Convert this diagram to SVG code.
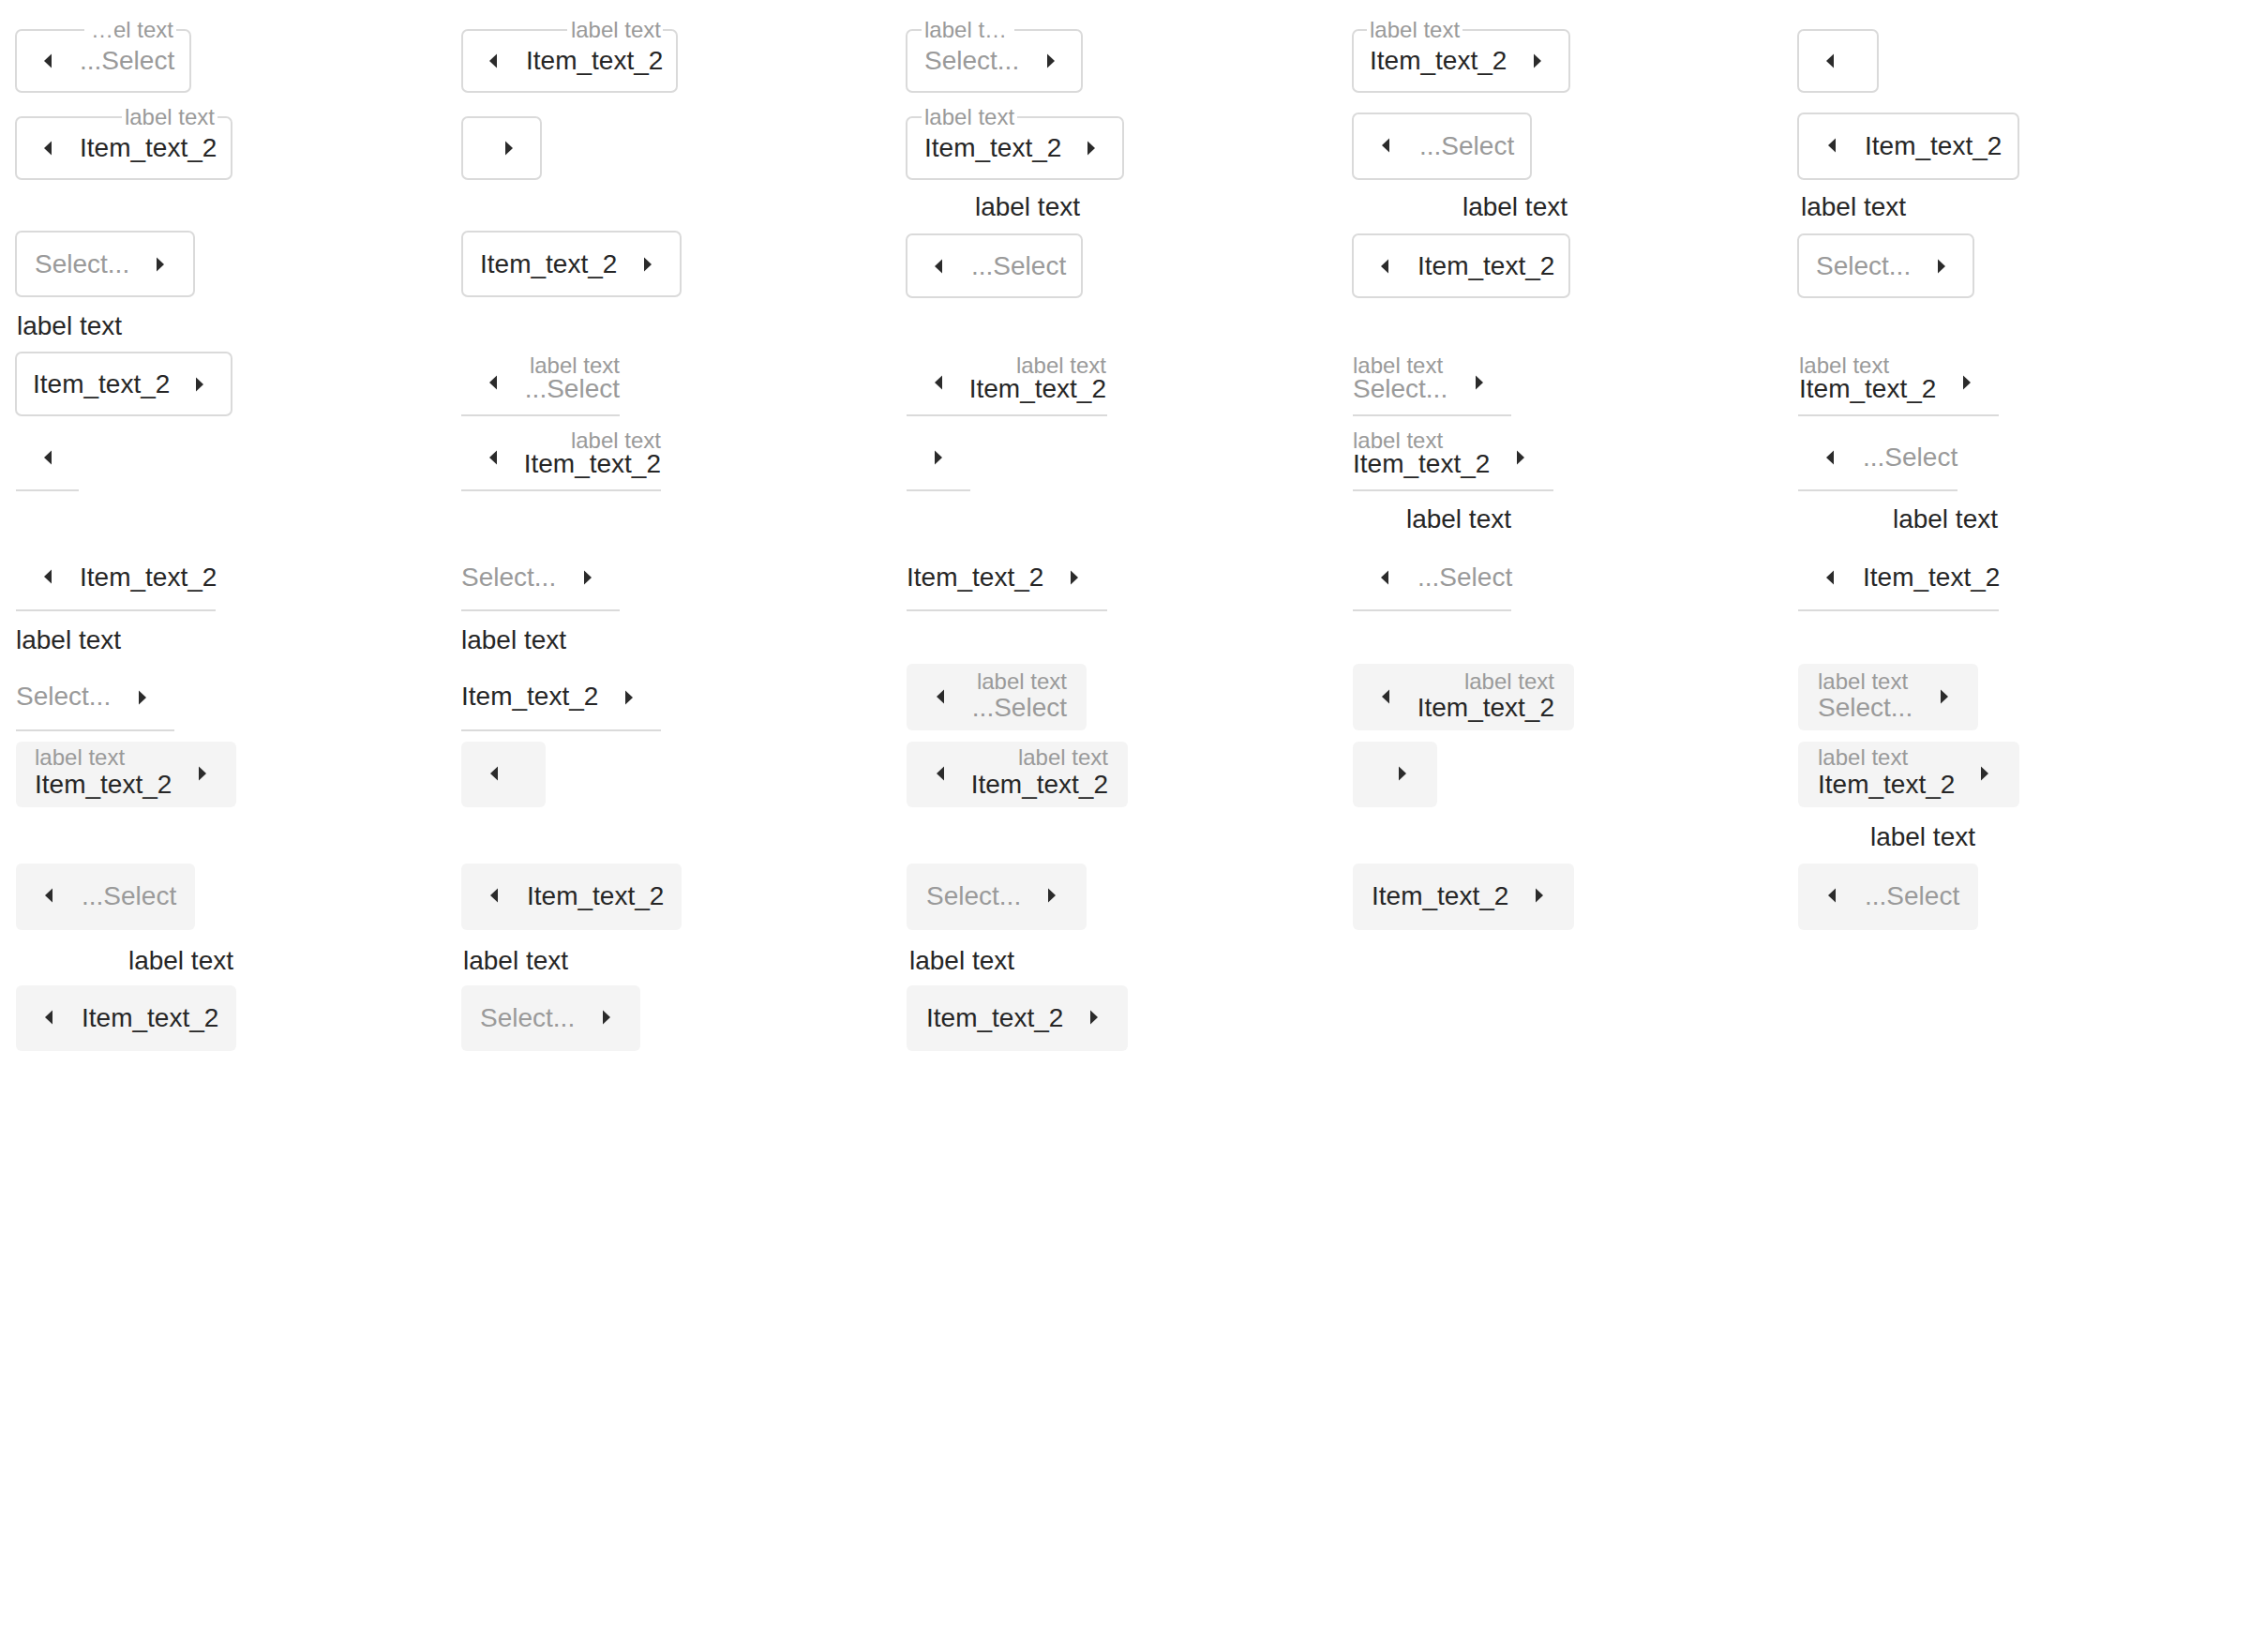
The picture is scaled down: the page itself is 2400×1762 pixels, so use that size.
<svg xmlns="http://www.w3.org/2000/svg" xmlns:xlink="http://www.w3.org/1999/xlink" width="2400" height="1762" viewBox="0 0 2400 1762">
<style>
text{font-family:"Liberation Sans",Arial,Helvetica,sans-serif}
.t{font-size:28px;fill:#262626}
.p{font-size:28px;fill:#9a9a9a}
.s{font-size:24px;fill:#9a9a9a}
.lb{font-size:28px;fill:#262626}
.e{text-anchor:end}
.bx{fill:#fff;stroke:#dadada;stroke-width:2}
.nb{fill:none;stroke:#dadada;stroke-width:2}
.fl{fill:#f4f4f4}
.ul{stroke:#dadada;stroke-width:2;fill:none}
.ar{fill:#2b2b2b}
</style>
<defs>
<path id="al" class="ar" d="M0,0 L8,-7.5 L8,7.5 Z"/>
<path id="ar" class="ar" d="M0,-7.5 L0,7.5 L8,0 Z"/>
</defs>
<rect width="2400" height="1762" fill="#fff"/>

<!-- Column 1 -->
<g id="c1n1"><path class="nb" d="M188,32 H197 A6,6 0 0 1 203,38 V92 A6,6 0 0 1 197,98 H23 A6,6 0 0 1 17,92 V38 A6,6 0 0 1 23,32 H90"/><text class="s e" x="185" y="40">…el text</text><use href="#al" x="47" y="65"/><text class="p" x="85" y="74">...Select</text></g>
<g id="c1n2"><path class="nb" d="M232,125 H241 A6,6 0 0 1 247,131 V185 A6,6 0 0 1 241,191 H23 A6,6 0 0 1 17,185 V131 A6,6 0 0 1 23,125 H130"/><text class="s e" x="229" y="133">label text</text><use href="#al" x="47" y="158"/><text class="t" x="85" y="167">Item_text_2</text></g>
<g id="c1n3"><rect class="bx" x="17" y="247" width="190" height="69" rx="6"/><text class="p" x="37" y="291">Select...</text><use href="#ar" x="167" y="282"/></g>
<g id="c1n4"><text class="lb" x="18" y="357">label text</text><rect class="bx" x="17" y="376" width="230" height="67" rx="6"/><text class="t" x="35" y="419">Item_text_2</text><use href="#ar" x="209" y="410"/></g>
<g id="c1n5"><use href="#al" x="47" y="488"/><line class="ul" x1="17" y1="523" x2="84" y2="523"/></g>
<g id="c1n6"><use href="#al" x="47" y="615"/><text class="t" x="85" y="625">Item_text_2</text><line class="ul" x1="17" y1="651" x2="230" y2="651"/></g>
<g id="c1n7"><text class="lb" x="17" y="692">label text</text><text class="p" x="17" y="752">Select...</text><use href="#ar" x="148" y="744"/><line class="ul" x1="17" y1="779" x2="186" y2="779"/></g>
<g id="c1n8"><rect class="fl" x="17" y="791" width="235" height="70" rx="6"/><text class="s" x="37" y="816">label text</text><text class="t" x="37" y="846">Item_text_2</text><use href="#ar" x="212" y="825"/></g>
<g id="c1n9"><rect class="fl" x="17" y="921" width="191" height="71" rx="6"/><use href="#al" x="48" y="955"/><text class="p" x="87" y="965">...Select</text></g>
<g id="c1n10"><text class="lb e" x="249" y="1034">label text</text><rect class="fl" x="17" y="1051" width="235" height="70" rx="6"/><use href="#al" x="48" y="1085"/><text class="t" x="87" y="1095">Item_text_2</text></g>

<!-- Column 2 -->
<g id="c2n1"><path class="nb" d="M707,32 H716 A6,6 0 0 1 722,38 V92 A6,6 0 0 1 716,98 H499 A6,6 0 0 1 493,92 V38 A6,6 0 0 1 499,32 H605"/><text class="s e" x="705" y="40">label text</text><use href="#al" x="522" y="65"/><text class="t" x="561" y="74">Item_text_2</text></g>
<g id="c2n2"><rect class="bx" x="493" y="125" width="84" height="66" rx="6"/><use href="#ar" x="539" y="158"/></g>
<g id="c2n3"><rect class="bx" x="493" y="247" width="233" height="69" rx="6"/><text class="t" x="512" y="291">Item_text_2</text><use href="#ar" x="687" y="282"/></g>
<g id="c2n4"><use href="#al" x="522" y="408"/><text class="s e" x="661" y="398">label text</text><text class="p e" x="661" y="424">...Select</text><line class="ul" x1="492" y1="443" x2="661" y2="443"/></g>
<g id="c2n5"><use href="#al" x="522" y="488"/><text class="s e" x="705" y="478">label text</text><text class="t e" x="705" y="504">Item_text_2</text><line class="ul" x1="492" y1="523" x2="705" y2="523"/></g>
<g id="c2n6"><text class="p" x="492" y="625">Select...</text><use href="#ar" x="623" y="616"/><line class="ul" x1="492" y1="651" x2="661" y2="651"/></g>
<g id="c2n7"><text class="lb" x="492" y="692">label text</text><text class="t" x="492" y="752">Item_text_2</text><use href="#ar" x="667" y="744"/><line class="ul" x1="492" y1="779" x2="705" y2="779"/></g>
<g id="c2n8"><rect class="fl" x="492" y="791" width="90" height="70" rx="6"/><use href="#al" x="523" y="825"/></g>
<g id="c2n9"><rect class="fl" x="492" y="921" width="235" height="71" rx="6"/><use href="#al" x="523" y="955"/><text class="t" x="562" y="965">Item_text_2</text></g>
<g id="c2n10"><text class="lb" x="494" y="1034">label text</text><rect class="fl" x="492" y="1051" width="191" height="70" rx="6"/><text class="p" x="512" y="1095">Select...</text><use href="#ar" x="643" y="1085"/></g>

<!-- Column 3 -->
<g id="c3n1"><path class="nb" d="M1082,32 H1148 A6,6 0 0 1 1154,38 V92 A6,6 0 0 1 1148,98 H973 A6,6 0 0 1 967,92 V38 A6,6 0 0 1 973,32 H983"/><text class="s" x="986" y="40">label t…</text><text class="p" x="986" y="74">Select...</text><use href="#ar" x="1117" y="65"/></g>
<g id="c3n2"><path class="nb" d="M1085,125 H1192 A6,6 0 0 1 1198,131 V185 A6,6 0 0 1 1192,191 H973 A6,6 0 0 1 967,185 V131 A6,6 0 0 1 973,125 H983"/><text class="s" x="986" y="133">label text</text><text class="t" x="986" y="167">Item_text_2</text><use href="#ar" x="1160" y="158"/></g>
<g id="c3n3"><text class="lb e" x="1152" y="230">label text</text><rect class="bx" x="967" y="250" width="187" height="67" rx="6"/><use href="#al" x="997" y="284"/><text class="p" x="1036" y="293">...Select</text></g>
<g id="c3n4"><use href="#al" x="997" y="408"/><text class="s e" x="1180" y="398">label text</text><text class="t e" x="1180" y="424">Item_text_2</text><line class="ul" x1="967" y1="443" x2="1181" y2="443"/></g>
<g id="c3n5"><use href="#ar" x="997" y="488"/><line class="ul" x1="967" y1="523" x2="1035" y2="523"/></g>
<g id="c3n6"><text class="t" x="967" y="625">Item_text_2</text><use href="#ar" x="1142" y="616"/><line class="ul" x1="967" y1="651" x2="1181" y2="651"/></g>
<g id="c3n7"><rect class="fl" x="967" y="708" width="192" height="71" rx="6"/><use href="#al" x="999" y="743"/><text class="s e" x="1138" y="735">label text</text><text class="p e" x="1138" y="764">...Select</text></g>
<g id="c3n8"><rect class="fl" x="967" y="791" width="236" height="70" rx="6"/><use href="#al" x="999" y="825"/><text class="s e" x="1182" y="816">label text</text><text class="t e" x="1182" y="846">Item_text_2</text></g>
<g id="c3n9"><rect class="fl" x="967" y="921" width="192" height="71" rx="6"/><text class="p" x="988" y="965">Select...</text><use href="#ar" x="1118" y="955"/></g>
<g id="c3n10"><text class="lb" x="970" y="1034">label text</text><rect class="fl" x="967" y="1051" width="236" height="70" rx="6"/><text class="t" x="988" y="1095">Item_text_2</text><use href="#ar" x="1163" y="1085"/></g>

<!-- Column 4 -->
<g id="c4n1"><path class="nb" d="M1560,32 H1668 A6,6 0 0 1 1674,38 V92 A6,6 0 0 1 1668,98 H1449 A6,6 0 0 1 1443,92 V38 A6,6 0 0 1 1449,32 H1458"/><text class="s" x="1461" y="40">label text</text><text class="t" x="1461" y="74">Item_text_2</text><use href="#ar" x="1636" y="65"/></g>
<g id="c4n2"><rect class="bx" x="1443" y="121" width="190" height="70" rx="6"/><use href="#al" x="1474" y="155"/><text class="p" x="1514" y="165">...Select</text></g>
<g id="c4n3"><text class="lb e" x="1672" y="230">label text</text><rect class="bx" x="1443" y="250" width="231" height="67" rx="6"/><use href="#al" x="1473" y="284"/><text class="t" x="1512" y="293">Item_text_2</text></g>
<g id="c4n4"><text class="s" x="1443" y="398">label text</text><text class="p" x="1443" y="424">Select...</text><use href="#ar" x="1574" y="408"/><line class="ul" x1="1443" y1="443" x2="1612" y2="443"/></g>
<g id="c4n5"><text class="s" x="1443" y="478">label text</text><text class="t" x="1443" y="504">Item_text_2</text><use href="#ar" x="1618" y="488"/><line class="ul" x1="1443" y1="523" x2="1657" y2="523"/></g>
<g id="c4n6"><text class="lb e" x="1612" y="563">label text</text><use href="#al" x="1473" y="616"/><text class="p" x="1512" y="625">...Select</text><line class="ul" x1="1443" y1="651" x2="1612" y2="651"/></g>
<g id="c4n7"><rect class="fl" x="1443" y="708" width="236" height="71" rx="6"/><use href="#al" x="1474" y="743"/><text class="s e" x="1658" y="735">label text</text><text class="t e" x="1658" y="764">Item_text_2</text></g>
<g id="c4n8"><rect class="fl" x="1443" y="791" width="90" height="70" rx="6"/><use href="#ar" x="1492" y="825"/></g>
<g id="c4n9"><rect class="fl" x="1443" y="921" width="236" height="71" rx="6"/><text class="t" x="1463" y="965">Item_text_2</text><use href="#ar" x="1638" y="955"/></g>

<!-- Column 5 -->
<g id="c5n1"><rect class="bx" x="1918" y="32" width="85" height="66" rx="6"/><use href="#al" x="1948" y="65"/></g>
<g id="c5n2"><rect class="bx" x="1918" y="121" width="235" height="70" rx="6"/><use href="#al" x="1950" y="155"/><text class="t" x="1989" y="165">Item_text_2</text></g>
<g id="c5n3"><text class="lb" x="1921" y="230">label text</text><rect class="bx" x="1918" y="250" width="187" height="67" rx="6"/><text class="p" x="1937" y="293">Select...</text><use href="#ar" x="2067" y="284"/></g>
<g id="c5n4"><text class="s" x="1919" y="398">label text</text><text class="t" x="1919" y="424">Item_text_2</text><use href="#ar" x="2094" y="408"/><line class="ul" x1="1918" y1="443" x2="2132" y2="443"/></g>
<g id="c5n5"><use href="#al" x="1948" y="488"/><text class="p" x="1987" y="497">...Select</text><line class="ul" x1="1918" y1="523" x2="2088" y2="523"/></g>
<g id="c5n6"><text class="lb e" x="2131" y="563">label text</text><use href="#al" x="1948" y="616"/><text class="t" x="1987" y="625">Item_text_2</text><line class="ul" x1="1918" y1="651" x2="2132" y2="651"/></g>
<g id="c5n7"><rect class="fl" x="1918" y="708" width="192" height="71" rx="6"/><text class="s" x="1939" y="735">label text</text><text class="p" x="1939" y="764">Select...</text><use href="#ar" x="2070" y="743"/></g>
<g id="c5n8"><rect class="fl" x="1918" y="791" width="236" height="70" rx="6"/><text class="s" x="1939" y="816">label text</text><text class="t" x="1939" y="846">Item_text_2</text><use href="#ar" x="2113" y="825"/></g>
<g id="c5n9"><text class="lb e" x="2107" y="902">label text</text><rect class="fl" x="1918" y="921" width="192" height="71" rx="6"/><use href="#al" x="1950" y="955"/><text class="p" x="1989" y="965">...Select</text></g>
</svg>
